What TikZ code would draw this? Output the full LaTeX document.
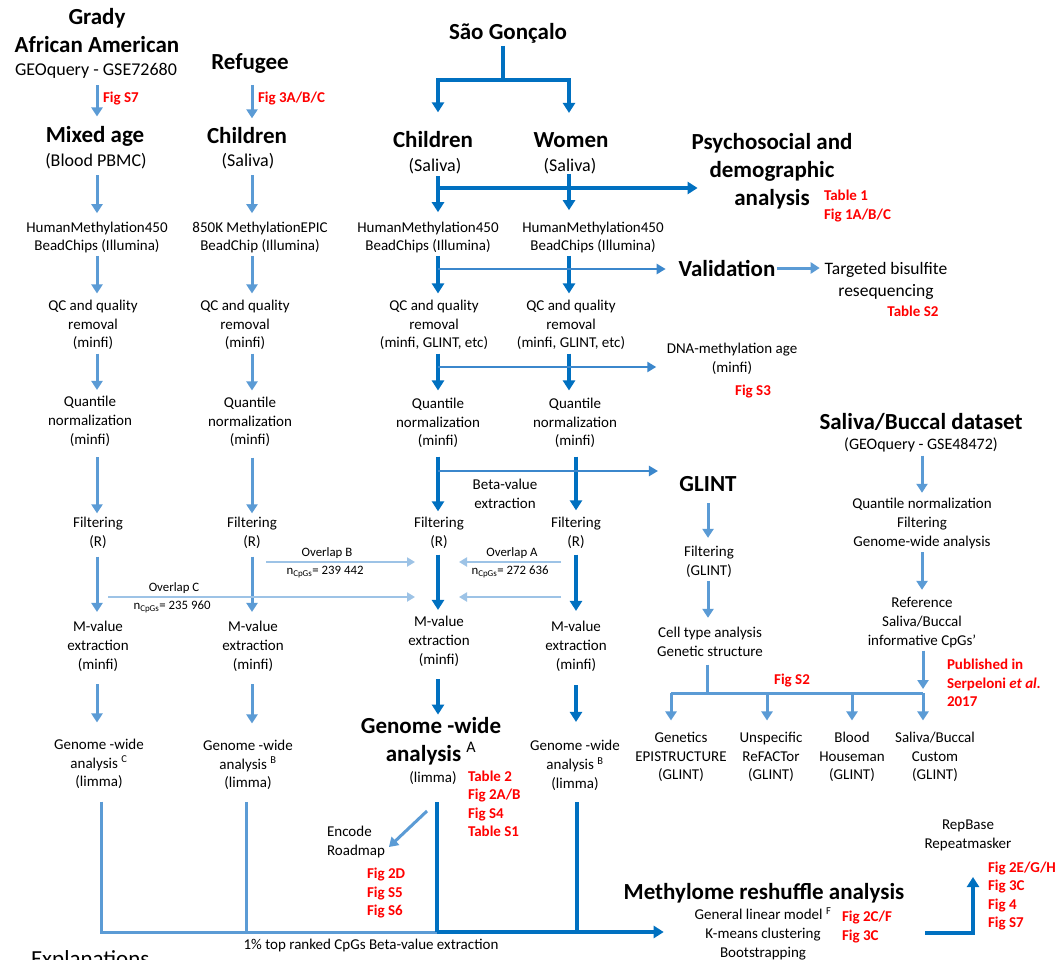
\documentclass[tikz,border=0pt]{standalone}
\usepackage{fontspec}
\setmainfont{Carlito}
\usetikzlibrary{arrows.meta}
\definecolor{lblue}{HTML}{5B9BD5}
\definecolor{dblue}{HTML}{0070C0}
\definecolor{mblue}{HTML}{3B87CC}
\definecolor{oblue}{HTML}{9DC3E6}
\definecolor{fred}{HTML}{FF0000}
\newcommand{\vA}[5][]{\draw[#2,#1] (#3.south -| #5) -- (#4.north -| #5);}
\begin{document}
\begin{tikzpicture}[x=1pt,y=-1pt,
 every node/.style={inner sep=0pt,outer sep=0pt},
 txt/.style={align=center,font=\fontsize{15}{18.8}\selectfont},
 hd/.style={align=center,font=\bfseries\fontsize{23}{28}\selectfont},
 sub/.style={align=center,font=\fontsize{18}{22}\selectfont},
 fig/.style={align=left,anchor=west,text=fred,font=\bfseries\fontsize{15}{18.5}\selectfont},
 ovl/.style={font=\fontsize{12.8}{15}\selectfont},
 la/.style={draw=lblue,line width=3pt,-{Triangle[length=9pt,width=11pt]}},
 lline/.style={draw=lblue,line width=3pt},
 da/.style={draw=dblue,line width=3.6pt,-{Triangle[length=10pt,width=12pt]}},
 dline/.style={draw=dblue,line width=3.6pt},
 ma/.style={draw=mblue,line width=2.6pt,-{Triangle[length=9pt,width=10pt]}},
 oa/.style={draw=oblue,line width=2pt,-{Triangle[length=8pt,width=9pt]}},
]
\useasboundingbox (0,0) rectangle (1062,960);
\fill[white] (0,0) rectangle (1062,960);

% column coordinates
\coordinate (c1) at (97,0);
\coordinate (c2) at (252,0);
\coordinate (c3) at (438,0);
\coordinate (c4) at (569,0);
\coordinate (c5) at (576,0);
\coordinate (cg) at (708,0);
\coordinate (cs) at (922,0);

% ---------- Column 1: Grady ----------
\node[hd] (grady) at (97,31) {Grady\\African American};
\node[sub] (geo1) at (96,71) {GEOquery - GSE72680};
\node[fig] (fs7a) at (103,99) {Fig S7};
\node[hd] (mixed) at (95,136) {Mixed age};
\node[sub] (blood) at (96,161) {(Blood PBMC)};
\node[txt] (hm1) at (97,237.5) {HumanMethylation450\\BeadChips (Illumina)};
\node[txt] (qc1) at (93,325) {QC and quality\\removal\\(minfi)};
\node[txt] (qn1) at (90,421.5) {Quantile\\normalization\\(minfi)};
\node[txt] (f1) at (98,532.5) {Filtering\\(R)};
\node[txt] (mv1) at (98,646.5) {M-value\\extraction\\(minfi)};
\node[txt] (gw1) at (99,764) {Genome -wide\\analysis \textsuperscript{C}\\(limma)};

\vA[shorten <=6.5pt,shorten >=9.5pt]{la}{geo1}{mixed}{c1}
\vA[shorten <=6.5pt,shorten >=8.5pt]{la}{blood}{hm1}{c1}
\vA[shorten <=2.5pt,shorten >=6.5pt]{la}{hm1}{qc1}{c1}
\vA[shorten <=3.5pt,shorten >=6.5pt]{la}{qc1}{qn1}{c1}
\vA[shorten <=10.5pt,shorten >=3.5pt]{la}{qn1}{f1}{c1}
\vA[shorten <=8.5pt,shorten >=9.5pt]{la}{f1}{mv1}{c1}
\vA[shorten <=12.5pt,shorten >=16.5pt]{la}{mv1}{gw1}{c1}

% ---------- Column 2: Refugee ----------
\node[hd] (refugee) at (250,63) {Refugee};
\node[fig] (f3abc) at (258,99) {Fig 3A/B/C};
\node[hd] (child2) at (247,136) {Children};
\node[sub] (sal2) at (248,161) {(Saliva)};
\node[txt] (epic) at (260,237.5) {850K MethylationEPIC\\BeadChip (Illumina)};
\node[txt] (qc2) at (245,325) {QC and quality\\removal\\(minfi)};
\node[txt] (qn2) at (250,422) {Quantile\\normalization\\(minfi)};
\node[txt] (f2) at (252,532.5) {Filtering\\(R)};
\node[txt] (mv2) at (253,646.5) {M-value\\extraction\\(minfi)};
\node[txt] (gw2) at (248,765) {Genome -wide\\analysis \textsuperscript{B}\\(limma)};

\vA[shorten <=12pt,shorten >=9.5pt]{la}{refugee}{child2}{c2}
\vA[shorten <=6.5pt,shorten >=8.5pt]{la}{sal2}{epic}{c2}
\vA[shorten <=2.5pt,shorten >=6.5pt]{la}{epic}{qc2}{c2}
\vA[shorten <=3.5pt,shorten >=6.5pt]{la}{qc2}{qn2}{c2}
\vA[shorten <=10.5pt,shorten >=3.5pt]{la}{qn2}{f2}{c2}
\vA[shorten <=8.5pt,shorten >=9.5pt]{la}{f2}{mv2}{c2}
\vA[shorten <=12.5pt,shorten >=16.5pt]{la}{mv2}{gw2}{c2}

% ---------- Sao Goncalo ----------
\node[hd] (sao) at (508,33) {São Gonçalo};
\node[hd] (child3) at (433,140) {Children};
\node[sub] (sal3) at (435,166) {(Saliva)};
\node[hd] (women) at (571,140) {Women};
\node[sub] (sal4) at (570,166) {(Saliva)};
\node[txt] (hm3) at (428,237.5) {HumanMethylation450\\BeadChips (Illumina)};
\node[txt] (hm4) at (593,237.5) {HumanMethylation450\\BeadChips (Illumina)};
\node[txt] (qc3) at (434,325) {QC and quality\\removal\\(minfi, GLINT, etc)};
\node[txt] (qc4) at (571,325) {QC and quality\\removal\\(minfi, GLINT, etc)};
\node[txt] (qn3) at (438,423) {Quantile\\normalization\\(minfi)};
\node[txt] (qn4) at (575,423) {Quantile\\normalization\\(minfi)};
\node[txt] (beta) at (505,494) {Beta-value\\extraction};
\node[txt] (f3) at (439,532.5) {Filtering\\(R)};
\node[txt] (f4) at (576,532.5) {Filtering\\(R)};
\node[txt] (mv3) at (439,641.5) {M-value\\extraction\\(minfi)};
\node[txt] (mv4) at (576,646.5) {M-value\\extraction\\(minfi)};
\node[hd] (gw3) at (431,741) {Genome -wide\\analysis {\normalfont\textsuperscript{A}}};
\node[txt] (lim3) at (433,778) {(limma)};
\node[fig] (figA) at (468,804) {Table 2\\Fig 2A/B\\Fig S4\\Table S1};
\node[txt] (gw4) at (575,765.5) {Genome -wide\\analysis \textsuperscript{B}\\(limma)};
\node[txt,align=left] (encode) at (356,842) {Encode\\Roadmap};
\node[fig] (figE) at (367,893) {Fig 2D\\Fig S5\\Fig S6};

\coordinate (sgj) at (503,80);
\draw[dline,shorten <=3pt] (sao.south -| sgj) -- (sgj);
\draw[da,shorten >=19.5pt] (sgj) -| (child3.north -| c3);
\draw[da,shorten >=19.5pt] (sgj) -| (women.north -| c4);

\vA[shorten <=2.4pt,shorten >=9.5pt]{da}{sal3}{hm3}{c3}
\vA[shorten <=0pt,shorten >=11.5pt]{da}{sal4}{hm4}{c4}
\vA[shorten <=2.5pt,shorten >=6.5pt]{da}{hm3}{qc3}{c3}
\vA[shorten <=2.5pt,shorten >=6.5pt]{da}{hm4}{qc4}{c4}
\vA[shorten <=3.5pt,shorten >=7.5pt]{da}{qc3}{qn3}{c3}
\vA[shorten <=3.5pt,shorten >=7.5pt]{da}{qc4}{qn4}{c4}
\vA[shorten <=8.5pt,shorten >=5.5pt]{da}{qn3}{f3}{c3}
\vA[shorten <=8.5pt,shorten >=6.5pt]{da}{qn4}{f4}{c5}
\vA[shorten <=6.5pt,shorten >=6.5pt]{da}{f3}{mv3}{c3}
\vA[shorten <=6.5pt,shorten >=10.5pt]{da}{f4}{mv4}{c5}
\vA[shorten <=12.5pt,shorten >=2.5pt]{da}{mv3}{gw3}{c3}
\vA[shorten <=13.5pt,shorten >=18.5pt]{da}{mv4}{gw4}{c5}

% ---------- side branches ----------
\node[hd] (psych) at (772,171) {Psychosocial and\\demographic\\analysis};
\node[fig] (fig1) at (824,206) {Table 1\\Fig 1A/B/C};
\node[hd] (valid) at (727,268) {Validation};
\node[align=center,font=\fontsize{17.5}{22}\selectfont] (target) at (886,281) {Targeted bisulfite\\resequencing};
\node[fig,anchor=center] (figS2t) at (913,311) {Table S2};
\node[txt] (dna) at (732,358.5) {DNA-methylation age\\(minfi)};
\node[fig,anchor=center] (figS3) at (753,392) {Fig S3};
\node[hd] (glint) at (708,484) {GLINT};

\coordinate (jp) at (438,188);
\coordinate (jv) at (438,269);
\coordinate (jd) at (438,367);
\coordinate (jg) at (438,471);
\draw[da] (jp) -- ([xshift=6pt]jp -| psych.west);
\draw[ma,shorten >=13pt] (jv) -- (jv -| valid.west);
\draw[la,shorten <=2pt,shorten >=5pt] (valid.east) -- (valid.east -| target.west);
\draw[ma,shorten >=10.5pt] (jd) -- (jd -| dna.west);
\draw[ma,shorten >=21.5pt] (jg) -- (jg -| glint.west);

% ---------- overlaps ----------
\coordinate (oB1) at (266,562); \coordinate (oB2) at (415,562);
\coordinate (oC1) at (108,597); \coordinate (oC2) at (415,597);
\coordinate (oA1) at (561,562); \coordinate (oA2) at (459,562);
\coordinate (oD1) at (561,597); \coordinate (oD2) at (459,597);
\draw[oa] (oB1) -- (oB2);
\draw[oa] (oC1) -- (oC2);
\draw[oa] (oA1) -- (oA2);
\draw[oa] (oD1) -- (oD2);
\node[ovl] (ovB) at (327,553) {Overlap B};
\node[ovl] (nB) at (325,572) {n\textsubscript{CpGs}= 239 442};
\node[ovl] (ovA) at (512,553) {Overlap A};
\node[ovl] (nA) at (510,572) {n\textsubscript{CpGs}= 272 636};
\node[ovl] (ovC) at (174,588) {Overlap C};
\node[ovl] (nC) at (172,607) {n\textsubscript{CpGs}= 235 960};

% ---------- GLINT branch ----------
\node[txt] (fglint) at (709,562) {Filtering\\(GLINT)};
\node[txt] (cell) at (710,642) {Cell type analysis\\Genetic structure};
\vA[shorten <=11.4pt,shorten >=8.5pt]{la}{glint}{fglint}{cg}
\vA[shorten <=3.5pt,shorten >=9.5pt]{la}{fglint}{cell}{cg}

\node[hd] (saliva) at (921,422) {Saliva/Buccal dataset};
\node[align=center,font=\fontsize{16}{20}\selectfont] (geo2) at (921,445) {(GEOquery - GSE48472)};
\node[txt] (qfg) at (922,523.5) {Quantile normalization\\Filtering\\Genome-wide analysis};
\node[txt] (ref) at (922,622.5) {Reference\\Saliva/Buccal\\informative CpGs’};
\node[fig] (pub) at (947,683) {Published in\\Serpeloni \textit{et al.}\\2017};
\vA[shorten <=3.5pt,shorten >=5.5pt]{la}{geo2}{qfg}{cs}
\vA[shorten <=3.5pt,shorten >=7.5pt]{la}{qfg}{ref}{cs}

\node[txt] (gen) at (681,757) {Genetics\\EPISTRUCTURE\\(GLINT)};
\node[txt] (uns) at (771,757) {Unspecific\\ReFACTor\\(GLINT)};
\node[txt] (hou) at (852,757) {Blood\\Houseman\\(GLINT)};
\node[txt] (cus) at (935,757) {Saliva/Buccal\\Custom\\(GLINT)};
\node[fig,anchor=center] (figS2) at (792,681) {Fig S2};

\coordinate (bj) at (707,693);
\coordinate (bL) at (671,693);
\coordinate (bR) at (923,693);
\coordinate (b2) at (767,693);
\coordinate (b3) at (852,693);
\draw[lline,shorten <=8pt] (cell.south -| bj) -- (bj);
\draw[lline] (bL) -- (bR);
\draw[la,shorten <=3pt,shorten >=4pt] (ref.south -| bR) -- (bR);
\draw[la,shorten >=11.5pt] (bL) -- (bL |- gen.north);
\draw[la,shorten >=11.5pt] (b2) -- (b2 |- uns.north);
\draw[la,shorten >=11.5pt] (b3) -- (b3 |- hou.north);
\draw[la,shorten >=11.5pt] (bR) -- (bR |- cus.north);

% ---------- bottom ----------
\node[hd] (meth) at (764,893) {Methylome reshuffle analysis};
\node[txt] (glm) at (763,934) {General linear model \textsuperscript{F}\\K-means clustering\\Bootstrapping};
\node[fig] (fig2c) at (842,927) {Fig 2C/F\\Fig 3C};
\node[txt] (rep) at (968,835.5) {RepBase\\Repeatmasker};
\node[fig] (fig2e) at (988,896) {Fig 2E/G/H\\Fig 3C\\Fig 4\\Fig S7};
\node[txt] (top1) at (371,945) {1\% top ranked CpGs Beta-value extraction};
\node[anchor=base west,font=\fontsize{23}{28}\selectfont] (expl) at (31,966) {Explanations};

\coordinate (bb1) at (101,932);
\coordinate (bb2) at (246,932);
\coordinate (bb3) at (437,932);
\coordinate (bb4) at (577,932);
\draw[lline,shorten <=12.5pt] (gw1.south -| bb1) -- (bb1) -- (bb3);
\draw[lline,shorten <=12pt] (gw2.south -| bb2) -- (bb2);
\draw[dline,shorten <=17.5pt] (lim3.south -| bb3) -- (bb3);
\draw[dline,shorten <=11.5pt] (gw4.south -| bb4) -- (bb4);
\draw[da,shorten >=31pt] (bb3) -- (bb3 -| glm.west);

\coordinate (ea) at (427,811);
\draw[la] (ea) -- ([xshift=4pt,yshift=-5pt]encode.east);

\coordinate (mr1) at (925,933);
\coordinate (mr3) at (973,877);
\draw[da] (mr1) -| (mr3);
\end{tikzpicture}
\end{document}
